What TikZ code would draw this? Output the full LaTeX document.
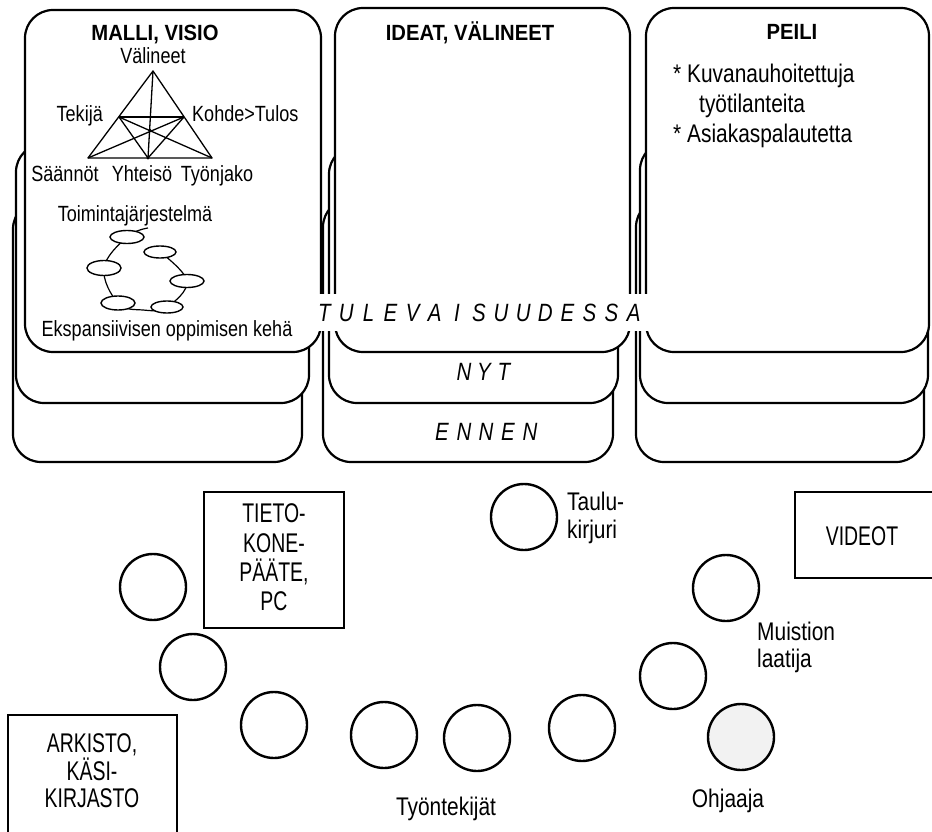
\documentclass[tikz,border=0pt]{standalone}
\usepackage{fontspec}
\setmainfont{Liberation Sans}[FakeStretch=0.82]
\newfontfamily\titlefont{Liberation Sans}[FakeStretch=0.92]
\newfontfamily\boxfont{Liberation Sans}[FakeStretch=0.72]
\usetikzlibrary{shapes.geometric}

% letters set on an even pitch
\newlength\lpitch
\def\lspaced#1{\ifx#1\relax\else\makebox[\lpitch]{#1}\expandafter\lspaced\fi}

\tikzset{
  card/.style={draw, line width=2.2pt, fill=white, rounded corners=28pt},
  cardtitle/.style={font=\titlefont\bfseries\fontsize{22}{26}\selectfont, inner sep=0pt, anchor=base},
  tri/.style={line width=1.3pt, line join=round},
  tlabel/.style={font=\fontsize{22}{26}\selectfont, inner sep=0pt, anchor=base},
  txt/.style={font=\fontsize{25.5}{30}\selectfont, inner sep=0pt, anchor=base},
  boxlbl/.style={font=\boxfont\fontsize{27}{30}\selectfont, inner sep=0pt, anchor=base},
  era/.style={font=\itshape\fontsize{25}{30}\selectfont, inner sep=0pt},
  seat/.style={circle, draw, line width=2.4pt, minimum size=66pt, inner sep=0pt},
  boxframe/.style={draw, line width=2.4pt, inner sep=0pt},
  phase/.style={ellipse, draw, line width=1.4pt, fill=white, inner sep=0pt, minimum width=34pt, minimum height=13pt},
  ringline/.style={line width=1.2pt}
}

\begin{document}
\begin{tikzpicture}[x=1pt, y=-1pt]
\useasboundingbox (0,0) rectangle (932,832);
\clip (0,0) rectangle (932,832);
\fill[white] (0,0) rectangle (932,832);

% ---- stacked cards: ENNEN (back), NYT (middle), TULEVAISUUDESSA (front)
\draw[card] (13,201) rectangle (302,462);
\draw[card] (16,144) rectangle (309,403);
\draw[card] (25,10) rectangle (321,352);

\draw[card] (323,199) rectangle (613,462);
\draw[card] (329,146) rectangle (618,403);
\draw[card] (335,8) rectangle (630,352);

\draw[card] (636,199) rectangle (924,462);
\draw[card] (640,142) rectangle (928,403);
\draw[card] (646,8) rectangle (929,352);

% ---- card titles
\node[cardtitle] (malli) at (155,41) {MALLI, VISIO};
\node[cardtitle] (ideat) at (470,41) {IDEAT, VÄLINEET};
\node[cardtitle] (peili) at (792,40) {PEILI};

% ---- activity system triangle
\coordinate (A)  at (153,71);
\coordinate (BL) at (88,158);
\coordinate (BR) at (212,158);
\coordinate (BM) at (148,158);
\coordinate (LM) at (119,117);
\coordinate (RM) at (184,117);
\coordinate (C)  at (150,130.5);
\draw[tri] (A) -- (BL) -- (BR) -- cycle;
\draw[tri] (A) -- (BM);
\draw[tri] (LM) -- (RM);
\draw[tri] (LM) -- (BR);
\draw[tri] (RM) -- (BL);
\draw[tri] (LM) -- (BM) -- (RM);
\fill (C) circle (1.9);
\fill (BM) circle (1.7);

\node[tlabel] (valineet) at (153,64) {Välineet};
\node[tlabel, anchor=base east] (tekija) at (103,122) {Tekijä};
\node[tlabel, anchor=base west] (kohde) at (192,122) {Kohde>Tulos};
\node[tlabel] (saannot) at (65,182) {Säännöt};
\node[tlabel] (yhteiso) at (142,182) {Yhteisö};
\node[tlabel] (tyonjako) at (217,182) {Työnjako};
\node[tlabel] (toiminta) at (135,221) {Toimintajärjestelmä};

% ---- cycle of expansive learning
\coordinate (tail) at (148,228);
\coordinate (p1) at (127,237);
\coordinate (p2) at (160,252);
\coordinate (p3) at (104,268);
\coordinate (p4) at (187,281);
\coordinate (p5) at (118,303);
\coordinate (p6) at (167,307);
\coordinate (pb) at (143,310);
\draw[ringline] plot[smooth, tension=0.65] coordinates {(tail) (p1) (p3) (p5) (pb) (p6) (p4) (p2)};
\node[phase] (e1) at (p1) {};
\node[phase, minimum width=32pt, minimum height=12pt] (e2) at (p2) {};
\node[phase, minimum height=15pt] (e3) at (p3) {};
\node[phase] (e4) at (p4) {};
\node[phase, minimum height=14pt] (e5) at (p5) {};
\node[phase, minimum width=32pt, minimum height=12pt] (e6) at (p6) {};
\node[tlabel] (keha) at (167,336) {Ekspansiivisen oppimisen kehä};

% ---- mirror card notes
\node[txt, anchor=base west] (n1) at (673,83) {* Kuvanauhoitettuja};
\node[txt, anchor=base west] (n2) at (699,113) {työtilanteita};
\node[txt, anchor=base west] (n3) at (673,143) {* Asiakaspalautetta};

% ---- time labels
\node[era, fill=white, minimum width=342pt, minimum height=37pt] (future) at (479,312.5)
  {\setlength\lpitch{22.1pt}\lspaced TULEVAISUUDESSA\relax};
\node[era, anchor=base] (now) at (484,380) {\setlength\lpitch{20pt}\lspaced NYT\relax};
\node[era, anchor=base] (before) at (486,440) {\setlength\lpitch{22pt}\lspaced ENNEN\relax};

% ---- room: boxes
\node[boxframe, minimum width=140pt, minimum height=136pt] (pc) at (274,560) {};
\node[boxlbl] (pc1) at (274,522) {TIETO-};
\node[boxlbl] (pc2) at (274,552) {KONE-};
\node[boxlbl] (pc3) at (274,581) {PÄÄTE,};
\node[boxlbl] (pc4) at (274,610) {PC};

\node[boxframe, minimum width=169pt, minimum height=140pt] (arkisto) at (92.5,785) {};
\node[boxlbl] (ar1) at (92,752) {ARKISTO,};
\node[boxlbl] (ar2) at (92,780) {KÄSI-};
\node[boxlbl] (ar3) at (92,807) {KIRJASTO};

\node[boxframe, minimum width=170pt, minimum height=86pt] (videot) at (880,535) {};
\node[boxlbl] (vid) at (862,545) {VIDEOT};

% ---- room: seats
\node[seat] (s1) at (153,587) {};
\node[seat] (s2) at (193,667) {};
\node[seat] (s3) at (274,725) {};
\node[seat] (s4) at (384,735) {};
\node[seat] (s5) at (477,738) {};
\node[seat] (s6) at (582,728) {};
\node[seat] (s7) at (673,676) {};
\node[seat] (s8) at (726,588) {};
\node[seat, fill=black!5] (ohjaaja) at (741,737) {};
\node[seat] (taulu) at (524,517) {};

\node[txt, anchor=base west] (t1) at (567,510) {Taulu-};
\node[txt, anchor=base west] (t2) at (567,538) {kirjuri};
\node[txt, anchor=base west] (m1) at (757,640) {Muistion};
\node[txt, anchor=base west] (m2) at (757,667) {laatija};
\node[txt] (ohj) at (728,807) {Ohjaaja};
\node[txt] (tyont) at (446,815) {Työntekijät};
\end{tikzpicture}
\end{document}
